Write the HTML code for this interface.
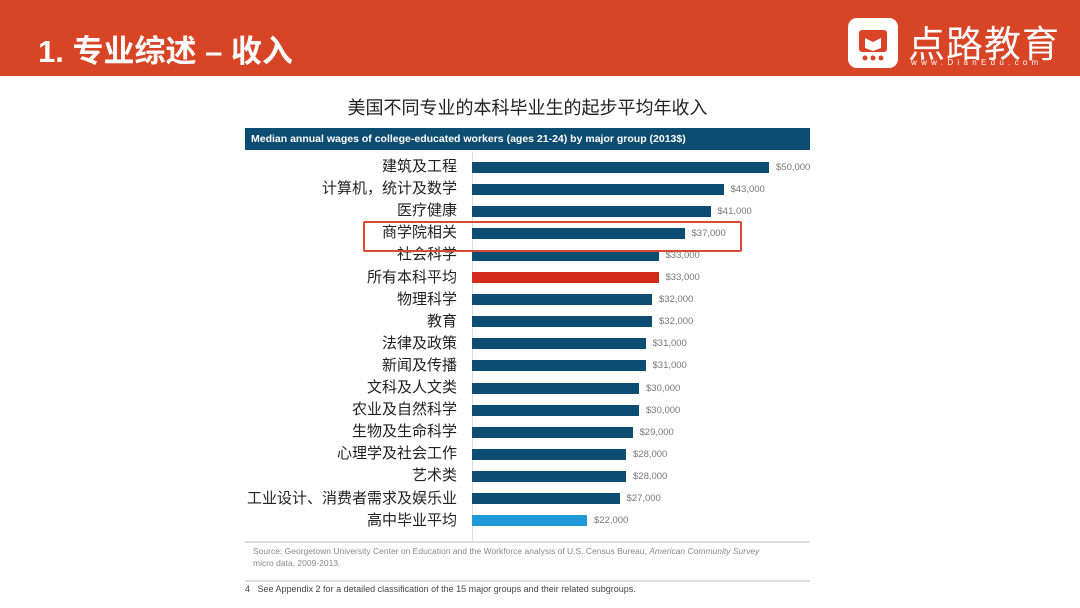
<!DOCTYPE html>
<html><head><meta charset="utf-8"><style>
body{margin:0;width:1080px;height:608px;background:#fff;position:relative;overflow:hidden;font-family:"Liberation Sans","Noto Sans CJK SC",sans-serif}
.hdr{position:absolute;left:0;top:0;width:1080px;height:76px;background:#d84526}
.t{position:absolute;left:38px;top:26px;color:#fff;font-size:31px;font-weight:bold}
.logo{position:absolute;left:848px;top:18px;width:50px;height:50px;background:#fff;border-radius:9px}
.lt{position:absolute;left:908px;top:14px;color:#fff;font-size:37px;letter-spacing:1px}
.lw{position:absolute;left:911px;top:58px;color:#fff;font-size:8px;letter-spacing:4.3px}
.ct{position:absolute;left:0;width:1055px;text-align:center;top:94px;font-size:18px;color:#222}
.band{position:absolute;left:245px;top:128px;width:565px;height:22px;background:#0e4d72;color:#fff;font-size:10.5px;font-weight:bold;line-height:22px;padding-left:6px;box-sizing:border-box}
.axis{position:absolute;left:472px;top:152px;width:1px;height:390px;background:#ddd}
.lab{position:absolute;right:623px;font-size:15px;color:#222;white-space:nowrap;line-height:20px}
.bar{position:absolute;left:472px;height:11px;background:#0e4d72}
.val{position:absolute;font-size:9.5px;color:#777;line-height:11px}
.box{position:absolute;left:363px;top:221px;width:375px;height:27px;border:2px solid #d94a35;border-radius:2px}
.ln{position:absolute;left:245px;width:565px;height:2px;background:#ddd}
.src{position:absolute;left:253px;font-size:8.5px;color:#888;line-height:12px}
</style></head><body>
<div class="hdr"></div>
<div class="t">1. 专业综述 – 收入</div>
<div class="logo"><svg width="50" height="50"><rect x="11" y="12" width="28" height="22" rx="3" fill="#d84526"/><path d="M17 20 L25 24 L33 20 L33 30 L25 33 L17 30Z" fill="#fff"/><circle cx="17" cy="40" r="2.5" fill="#d84526"/><circle cx="25" cy="40" r="2.5" fill="#d84526"/><circle cx="33" cy="40" r="2.5" fill="#d84526"/></svg></div>
<div class="lt">点路教育</div>
<div class="lw">www.DianEdu.com</div>
<div class="ct">美国不同专业的本科毕业生的起步平均年收入</div>
<div class="band">Median annual wages of college-educated workers (ages 21-24) by major group (2013$)</div>
<div class="axis"></div>
<div id="rows"></div>
<div class="box"></div>
<div class="ln" style="top:541px"></div>
<div class="src" style="top:545px">Source: Georgetown University Center on Education and the Workforce analysis of U.S. Census Bureau, <i>American Community Survey</i><br>micro data, 2009-2013.</div>
<div class="ln" style="top:580px"></div>
<div class="src" style="top:583px;left:245px;font-size:9px;color:#444">4&nbsp;&nbsp; See Appendix 2 for a detailed classification of the 15 major groups and their related subgroups.</div>
<script>
var d=[["建筑及工程",50],["计算机，统计及数学",43],["医疗健康",41],["商学院相关",37],["社会科学",33],["所有本科平均",33],["物理科学",32],["教育",32],["法律及政策",31],["新闻及传播",31],["文科及人文类",30],["农业及自然科学",30],["生物及生命科学",29],["心理学及社会工作",28],["艺术类",28],["工业设计、消费者需求及娱乐业",27],["高中毕业平均",22]];
var h="";d.forEach(function(r,i){var y=167+i*22.1;var w=r[1]*6.5-28;var c=i==5?"#d42a1e":(i==16?"#1f9ad6":"#0e4d72");
h+='<div class="lab" style="top:'+(y-10)+'px">'+r[0]+'</div><div class="bar" style="top:'+(y-5.5)+'px;width:'+w+'px;background:'+c+'"></div><div class="val" style="top:'+(y-5.5)+'px;left:'+(472+w+7)+'px">$'+r[1]+',000</div>';});
document.getElementById("rows").innerHTML=h;
</script>
</body></html>
